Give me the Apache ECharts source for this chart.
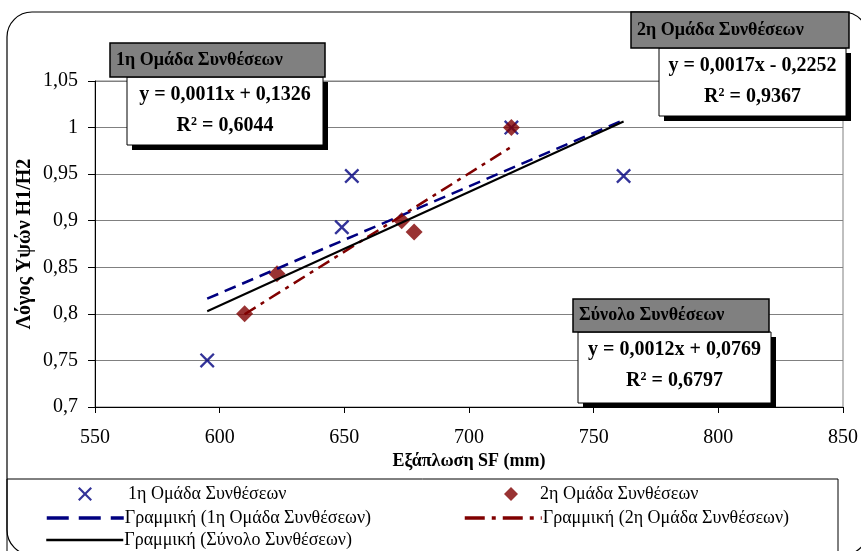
<!DOCTYPE html>
<html>
<head>
<meta charset="utf-8">
<script src="https://cdn.jsdelivr.net/npm/echarts@6/dist/echarts.min.js"></script>
<style>
  html, body { margin: 0; padding: 0; background: #fff; }
  #chart { width: 861px; height: 551px; }
</style>
</head>
<body>
<div id="chart"></div>
<script>
// Spread (mm) and height ratio H1/H2 for each mix group
const group1X = [595, 649, 653, 717, 762];
const group1Y = [0.75, 0.893, 0.948, 1.0, 0.948];
const group2X = [610, 623, 673, 678, 717];
const group2Y = [0.80, 0.843, 0.90, 0.888, 1.0];

// Linear trend lines: slope, intercept, x range, R²
const trendSlope = [0.001149, 0.00168, 0.00122];
const trendIntercept = [0.1326, -0.2252, 0.0769];
const trendRange = [[595, 762], [610, 717], [595, 762]];
const trendR2 = [0.6044, 0.9367, 0.6797];

const groupNames = ['1η Ομάδα Συνθέσεων', '2η Ομάδα Συνθέσεων', 'Σύνολο Συνθέσεων'];
const trendNames = ['Γραμμική (1η Ομάδα Συνθέσεων)', 'Γραμμική (2η Ομάδα Συνθέσεων)', 'Γραμμική (Σύνολο Συνθέσεων)'];

const xTicks = [550, 600, 650, 700, 750, 800, 850];
const yTickLabels = ['0,7', '0,75', '0,8', '0,85', '0,9', '0,95', '1', '1,05'];

const FONT = 'Liberation Serif';
const NAVY = '#000080';
const MAROON = '#800000';

function pairs(xs, ys) { return xs.map((x, i) => [x, ys[i]]); }
function trendLine(i) {
  return trendRange[i].map(x => [x, trendSlope[i] * x + trendIntercept[i]]);
}
function num4(v) { return Math.abs(v).toFixed(4).replace('.', ','); }
function equation(i) {
  const b = trendIntercept[i];
  return 'y = ' + num4(trendSlope[i]) + 'x ' + (b < 0 ? '- ' : '+ ') + num4(b);
}

const crossPath = 'path://M0,2.2L2.2,0L10,7.8L17.8,0L20,2.2L12.2,10L20,17.8L17.8,20L10,12.2L2.2,20L0,17.8L7.8,10Z';

// Boxed trend annotations: grey caption, white body with a drop shadow
const boxes = [
  { head: [110, 43, 215, 34], body: [127, 77, 196, 68] },
  { head: [631, 12, 218, 36], body: [659, 48, 187, 68] },
  { head: [573, 299, 196, 33], body: [578, 332, 193, 71] }
];

function boxGraphic(i) {
  const h = boxes[i].head, b = boxes[i].body;
  const cx = b[0] + b[2] / 2;
  return [
    { type: 'rect', z: 100, shape: { x: b[0] + 5, y: b[1] + 5, width: b[2], height: b[3] }, style: { fill: '#000' } },
    { type: 'rect', z: 101, shape: { x: b[0], y: b[1], width: b[2], height: b[3] }, style: { fill: '#fff', stroke: '#000', lineWidth: 1 } },
    { type: 'rect', z: 102, shape: { x: h[0], y: h[1], width: h[2], height: h[3] }, style: { fill: '#808080', stroke: '#000', lineWidth: 1.5 } },
    { type: 'text', z: 103, x: h[0] + 6, y: h[1] + h[3] / 2, style: { text: groupNames[i], font: 'bold 18px "' + FONT + '"', fill: '#000', verticalAlign: 'middle', align: 'left' } },
    { type: 'text', z: 103, x: cx, y: b[1] + 18, style: { text: equation(i), font: 'bold 20px "' + FONT + '"', fill: '#000', verticalAlign: 'middle', align: 'center' } },
    {
      type: 'text', z: 103, x: cx, y: b[1] + 49,
      style: {
        text: '{r|R}{s|2}{r| = ' + num4(trendR2[i]) + '}',
        align: 'center', verticalAlign: 'middle',
        rich: {
          r: { font: 'bold 20px "' + FONT + '"', fill: '#000', verticalAlign: 'bottom' },
          s: { font: 'bold 12px "' + FONT + '"', fill: '#000', verticalAlign: 'top', padding: [0, 0, 8, 0] }
        }
      }
    }
  ];
}

// One legend component per entry, laid out in two columns
const hidden = { color: 'rgba(0,0,0,0)', borderColor: 'rgba(0,0,0,0)', borderWidth: 0 };
const legendSlots = [
  { name: groupNames[0], left: 78, top: 485, w: 14, pad: 31 },
  { name: trendNames[0], left: 45, top: 509, w: 77, pad: -4, line: { color: NAVY, width: 3.5, type: [22, 10] } },
  { name: trendNames[2], left: 45, top: 531, w: 77, pad: -4, line: { color: '#000', width: 2.5, type: 'solid' } },
  { name: groupNames[1], left: 504, top: 485, w: 14, pad: 17 },
  { name: trendNames[1], left: 463, top: 509, w: 77, pad: -4, line: { color: MAROON, width: 3.5, type: [20, 7, 4, 7] } }
];
const legends = legendSlots.map(s => ({
  data: [s.line ? { name: s.name, itemStyle: hidden, lineStyle: s.line } : { name: s.name }],
  left: s.left, top: s.top, itemWidth: s.w, itemHeight: 14, padding: 0,
  selectedMode: false,
  lineStyle: s.line || undefined,
  textStyle: { fontFamily: FONT, fontSize: 18, color: '#000', padding: [0, 0, 0, s.pad] }
}));

const chart = echarts.init(document.getElementById('chart'), null, { renderer: 'canvas' });

const option = {
  backgroundColor: '#fff',
  animation: false,
  textStyle: { fontFamily: FONT },
  grid: {
    left: 95, right: 18, top: 81, bottom: 144,
    show: true, borderColor: '#808080', borderWidth: 1, backgroundColor: 'transparent'
  },
  xAxis: {
    type: 'value', min: xTicks[0], max: xTicks[xTicks.length - 1], interval: 50,
    name: 'Εξάπλωση SF (mm)', nameLocation: 'middle', nameGap: 45, nameMoveOverlap: false,
    nameTextStyle: { fontFamily: FONT, fontSize: 18, fontWeight: 'bold', color: '#000' },
    axisLine: { lineStyle: { color: '#000', width: 1 } },
    axisTick: { show: true, length: 6, lineStyle: { color: '#000' } },
    axisLabel: { fontFamily: FONT, fontSize: 20, color: '#000', margin: 21 },
    splitLine: { show: false }
  },
  yAxis: {
    type: 'value', min: 0.7, max: 1.05, interval: 0.05,
    name: 'Λόγος Υψών Η1/Η2', nameLocation: 'middle', nameGap: 60, nameMoveOverlap: false,
    nameTextStyle: { fontFamily: FONT, fontSize: 20, fontWeight: 'bold', color: '#000' },
    axisLine: { show: true, lineStyle: { color: '#000', width: 1 } },
    axisTick: { show: true, length: 7, lineStyle: { color: '#000' } },
    axisLabel: {
      fontFamily: FONT, fontSize: 20, color: '#000', margin: 17,
      formatter: v => yTickLabels[Math.round((v - 0.7) / 0.05)]
    },
    splitLine: { show: true, lineStyle: { color: '#808080', width: 1 } }
  },
  legend: legends,
  series: [
    {
      name: groupNames[0], type: 'scatter', data: pairs(group1X, group1Y),
      symbol: crossPath, symbolSize: 15, itemStyle: { color: NAVY }, z: 3
    },
    {
      name: groupNames[1], type: 'scatter', data: pairs(group2X, group2Y),
      symbol: 'diamond', symbolSize: [17, 17], itemStyle: { color: MAROON }, z: 4
    },
    {
      name: trendNames[0], type: 'line', data: trendLine(0), showSymbol: false, symbol: 'none',
      lineStyle: { color: NAVY, width: 2.5, type: [12, 7] }, itemStyle: { color: NAVY }, z: 5
    },
    {
      name: trendNames[1], type: 'line', data: trendLine(1), showSymbol: false, symbol: 'none',
      lineStyle: { color: MAROON, width: 2.5, type: [13, 6, 4, 6] }, itemStyle: { color: MAROON }, z: 5
    },
    {
      name: trendNames[2], type: 'line', data: trendLine(2), showSymbol: false, symbol: 'none',
      lineStyle: { color: '#000', width: 2 }, itemStyle: { color: '#000' }, z: 6
    }
  ],
  graphic: [
    // outer chart frame with rounded corners
    { type: 'rect', z: 0, silent: true, shape: { x: 7, y: 12, width: 861, height: 543, r: 25 }, style: { fill: 'none', stroke: '#000', lineWidth: 1.2 } },
    // legend frame
    { type: 'rect', z: 0, silent: true, shape: { x: 7, y: 479, width: 831, height: 90 }, style: { fill: 'none', stroke: '#000', lineWidth: 1 } }
  ].concat(boxGraphic(0), boxGraphic(1), boxGraphic(2))
};

chart.setOption(option);
</script>
</body>
</html>
